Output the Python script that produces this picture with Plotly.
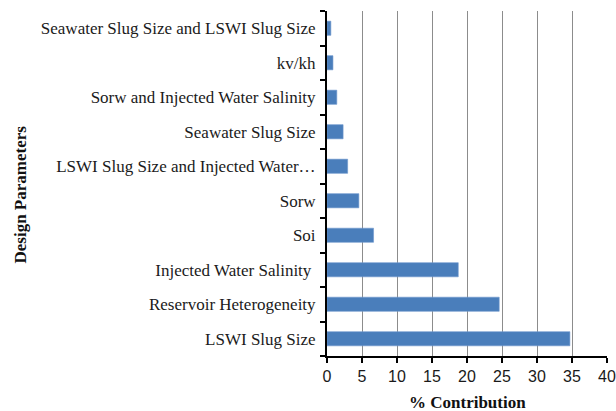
import plotly.graph_objects as go

# Design parameters, listed bottom to top, and their % contribution
parameters = [
    "LSWI Slug Size",
    "Reservoir Heterogeneity",
    "Injected Water Salinity ",
    "Soi",
    "Sorw",
    "LSWI Slug Size and Injected Water…",
    "Seawater Slug Size",
    "Sorw and Injected Water Salinity",
    "kv/kh",
    "Seawater Slug Size and LSWI Slug Size",
]
contribution = [34.7, 24.6, 18.75, 6.65, 4.55, 2.95, 2.3, 1.4, 0.85, 0.55]

x_ticks = [0, 5, 10, 15, 20, 25, 30, 35, 40]

serif = "Liberation Serif, Times New Roman, serif"
sans = "Liberation Sans, Arial, sans-serif"

fig = go.Figure(
    go.Bar(
        x=contribution,
        y=parameters,
        orientation="h",
        marker=dict(color="#4a7ebb", line=dict(color="#6f97cc", width=0.6)),
        width=0.41,
    )
)

fig.update_layout(
    width=616,
    height=411,
    margin=dict(l=327, r=9, t=11, b=55),
    paper_bgcolor="white",
    plot_bgcolor="white",
    showlegend=False,
    xaxis=dict(
        range=[0, 40],
        tickvals=x_ticks,
        ticktext=[str(v) for v in x_ticks],
        automargin=False,
        showgrid=True,
        gridcolor="#8c8c8c",
        gridwidth=1.2,
        zeroline=False,
        showline=True,
        linecolor="black",
        linewidth=2,
        ticks="outside",
        ticklen=5,
        tickwidth=1.5,
        tickcolor="black",
        tickfont=dict(family=sans, size=16, color="#1a1a1a"),
        mirror=False,
    ),
    yaxis=dict(
        type="category",
        categoryorder="array",
        categoryarray=parameters,
        range=[-0.5, len(parameters) - 0.5],
        automargin=False,
        showgrid=False,
        zeroline=False,
        showline=True,
        linecolor="black",
        linewidth=2,
        ticks="outside",
        tickson="boundaries",
        ticklen=5,
        tickwidth=1.5,
        tickcolor="black",
        ticklabelstandoff=6,
        tickfont=dict(family=serif, size=17, color="#1a1a1a"),
    ),
    annotations=[
        dict(
            text="<b>% Contribution</b>",
            xref="paper", yref="paper",
            x=0.5, y=0, yshift=-46,
            xanchor="center", yanchor="middle",
            showarrow=False,
            font=dict(family=serif, size=17, color="#111111"),
        ),
        dict(
            text="<b>Design Parameters</b>",
            xref="paper", yref="paper",
            x=0, xshift=-307, y=0.5, yshift=-11,
            xanchor="center", yanchor="middle",
            textangle=-90,
            showarrow=False,
            font=dict(family=serif, size=17, color="#111111"),
        ),
    ],
)

fig.write_html("out.html")
